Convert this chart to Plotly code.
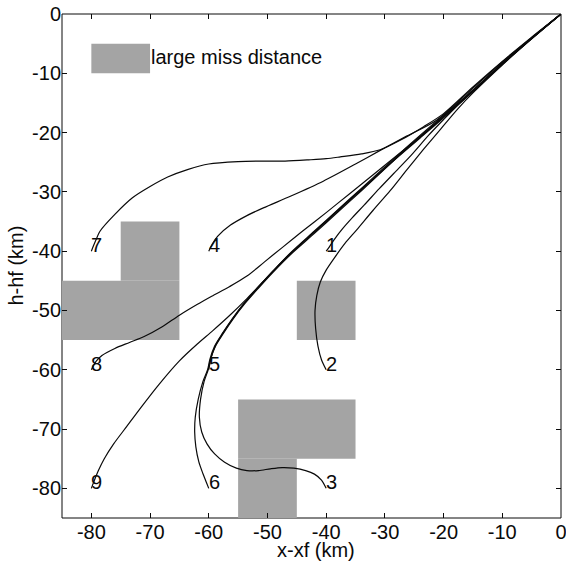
import plotly.graph_objects as go

# ---------------- data ----------------
x_ticks = [-80, -70, -60, -50, -40, -30, -20, -10, 0]
y_ticks = [0, -10, -20, -30, -40, -50, -60, -70, -80]

# large-miss-distance regions: [x0, x1, y0, y1]
miss_x0 = [-85, -75, -45, -55, -55]
miss_x1 = [-65, -65, -35, -35, -45]
miss_y0 = [-55, -45, -55, -75, -85]
miss_y1 = [-45, -35, -45, -65, -75]
legend_box = [-80, -70, -10, -5]
legend_text = "large miss distance"

traj1_x = [-40, -39.4, -38.6, -37.2, -35.5, -33.5, -31, -28.5, -25.5, -22.5, -20, -17.5, -15, -10, -5, 0]
traj1_y = [-40, -39.2, -38.0, -36.2, -34.3, -32.2, -29.5, -26.9, -23.8, -20.4, -17.8, -15.3, -13.1, -8.5, -4.2, 0]

traj2_x = [-40, -40.8, -41.4, -41.8, -41.9, -41.6, -41, -40, -38.5, -36.8, -34.8, -32, -29.1, -26.2, -23.4, -20.5, -17.5, -15, -10, -5, 0]
traj2_y = [-60, -58.3, -56, -53, -50, -47.5, -45.2, -43.2, -41.0, -38.7, -36.4, -33.1, -29.8, -26.2, -22.8, -19.4, -15.9, -13.3, -8.6, -4.2, 0]

traj3_x = [-40, -40.8, -42, -43.5, -45.5, -47.5, -49.5, -51.5, -53.5, -55.3, -57.3, -59, -60.3, -61.2, -61.6, -61.4, -60.8, -60.1, -59.7, -58.9, -57.6, -55.9, -53.9, -51.6, -49.1, -46.1, -42, -38, -34, -30, -26, -21, -15, -10, -5, 0]
traj3_y = [-80, -78.6, -77.6, -77.0, -76.6, -76.5, -76.7, -77.0, -77.0, -76.6, -75.6, -74.2, -72.5, -70.5, -68, -65, -62, -60, -58.2, -56.1, -54.0, -51.5, -48.9, -46.3, -43.6, -40.6, -37.0, -33.4, -29.8, -26.1, -22.5, -18.2, -13.0, -8.4, -4.1, 0]

traj4_x = [-60, -59.4, -58.5, -56.3, -53.5, -50.7, -46, -40.5, -35, -30.8, -26.3, -21.2, -15, -10, -5, 0]
traj4_y = [-40, -38.8, -37.5, -35.6, -34.0, -32.7, -30.7, -28.2, -25.3, -23.0, -20.6, -17.9, -12.5, -8.1, -4.0, 0]

traj5_x = [-60, -59.6, -58.8, -57.5, -55.8, -53.8, -51.5, -49, -46, -42, -38, -34, -30, -26, -21, -15, -10, -5, 0]
traj5_y = [-60, -58.0, -55.8, -53.7, -51.2, -48.6, -46.0, -43.3, -40.2, -36.6, -33.0, -29.4, -25.8, -22.2, -17.9, -12.9, -8.3, -4.1, 0]

traj6_x = [-60, -60.4, -61, -61.7, -62.2, -62.4, -62.3, -61.8, -61, -60.2, -59.8, -59.0, -57.7, -56.0, -54.0, -51.7, -49.2, -46.2, -42, -38, -34, -30, -26, -21, -15, -10, -5, 0]
traj6_y = [-80, -79, -77.5, -75.5, -73, -70.5, -68, -65, -62, -60, -58.2, -56.0, -53.9, -51.4, -48.8, -46.2, -43.5, -40.5, -36.8, -33.2, -29.6, -26.0, -22.4, -18.1, -13.0, -8.4, -4.1, 0]

traj7_x = [-80, -79.3, -78.5, -76, -73, -70, -67, -63.5, -60, -55, -51, -47, -43, -40, -37.6, -34, -30.8, -27.4, -23.4, -20, -15, -10, -5, 0]
traj7_y = [-40, -38.3, -36.6, -33.8, -31.0, -29.1, -27.5, -26.2, -25.3, -24.9, -24.8, -24.8, -24.6, -24.4, -24.1, -23.6, -22.9, -21.3, -19.0, -16.8, -12.3, -8.0, -3.9, 0]

traj8_x = [-80, -79.2, -78.2, -76, -73.5, -71, -68, -65, -62, -59.5, -56.5, -53.5, -50.5, -47.5, -44, -40, -36, -32, -28, -24, -20, -15, -10, -5, 0]
traj8_y = [-60, -58.6, -57.6, -56.4, -55.4, -54.4, -52.8, -50.8, -49.0, -47.6, -46.0, -44.2, -41.8, -39.4, -36.6, -33.5, -30.3, -27.1, -23.9, -20.7, -17.3, -12.8, -8.4, -4.1, 0]

traj9_x = [-80, -79.5, -78.8, -77.8, -76.2, -74, -71.5, -68.5, -65, -62, -59.3, -56.5, -53.5, -50.5, -47.5, -44, -40, -36, -32, -28, -24, -20, -15, -10, -5, 0]
traj9_y = [-80, -78.7, -77.0, -75.0, -72.5, -69.6, -66.3, -62.5, -58.5, -55.7, -53.4, -50.9, -48.0, -44.9, -41.8, -38.5, -34.9, -31.3, -27.8, -24.3, -20.9, -17.5, -13.0, -8.5, -4.1, 0]

traj_labels = ["1", "2", "3", "4", "5", "6", "7", "8", "9"]

# ---------------- figure ----------------
FONT = "Arial, Liberation Sans, Helvetica, sans-serif"
INK = "#0a0a0a"
GRAY = "#a4a4a4"

trajs = [(traj1_x, traj1_y), (traj2_x, traj2_y), (traj3_x, traj3_y),
         (traj4_x, traj4_y), (traj5_x, traj5_y), (traj6_x, traj6_y),
         (traj7_x, traj7_y), (traj8_x, traj8_y), (traj9_x, traj9_y)]

fig = go.Figure()
for (tx, ty) in trajs:
    fig.add_trace(go.Scatter(x=tx, y=ty, mode="lines",
                             line=dict(color=INK, width=1.2, shape="spline", smoothing=0.8),
                             hoverinfo="skip", showlegend=False))

shapes = [dict(type="rect", xref="paper", yref="paper", x0=0, x1=1, y0=0, y1=1,
               line=dict(color=INK, width=1), layer="below")]
for a, b, c, d in zip(miss_x0, miss_x1, miss_y0, miss_y1):
    shapes.append(dict(type="rect", xref="x", yref="y", x0=a, x1=b, y0=c, y1=d,
                       fillcolor=GRAY, line=dict(width=0), layer="below"))
shapes.append(dict(type="rect", xref="x", yref="y", x0=legend_box[0], x1=legend_box[1],
                   y0=legend_box[2], y1=legend_box[3], fillcolor=GRAY,
                   line=dict(width=0), layer="below"))

annotations = []
for (tx, ty), lab in zip(trajs, traj_labels):
    annotations.append(dict(x=tx[0], y=ty[0], text=lab, showarrow=False,
                            xanchor="left", yanchor="middle", xshift=-2, yshift=6,
                            font=dict(family=FONT, size=20, color=INK)))
annotations.append(dict(x=legend_box[1], y=(legend_box[2] + legend_box[3]) / 2,
                        text=legend_text, showarrow=False, xanchor="left",
                        yanchor="middle", xshift=-1, yshift=1,
                        font=dict(family=FONT, size=20, color=INK)))
annotations.append(dict(x=0.509, y=-0.064, xref="paper", yref="paper",
                        text="x-xf (km)", showarrow=False, xanchor="center",
                        yanchor="middle", font=dict(family=FONT, size=20, color=INK)))
annotations.append(dict(x=-0.093, y=0.5, xref="paper", yref="paper",
                        text="h-hf (km)", showarrow=False, textangle=-90,
                        xanchor="center", yanchor="middle",
                        font=dict(family=FONT, size=20, color=INK)))

axis_common = dict(showgrid=False, zeroline=False, showline=False, automargin=False,
                   ticks="inside", ticklen=5, tickwidth=1, tickcolor=INK,
                   ticklabeloverflow="allow",
                   mirror="ticks", tickfont=dict(family=FONT, size=20, color=INK))

fig.update_layout(
    width=566, height=565,
    margin=dict(l=62, r=5, t=14, b=47),
    paper_bgcolor="white", plot_bgcolor="white",
    shapes=shapes, annotations=annotations,
    xaxis=dict(range=[-85, 0], tickvals=x_ticks, ticktext=[str(v) for v in x_ticks], **axis_common),
    yaxis=dict(range=[-85, 0], tickvals=y_ticks, ticktext=[str(v) for v in y_ticks], **axis_common),
)

fig.write_html("out.html", config={"responsive": False, "displayModeBar": False},
               post_script="document.body.style.margin='0';document.body.style.overflow='hidden';")
